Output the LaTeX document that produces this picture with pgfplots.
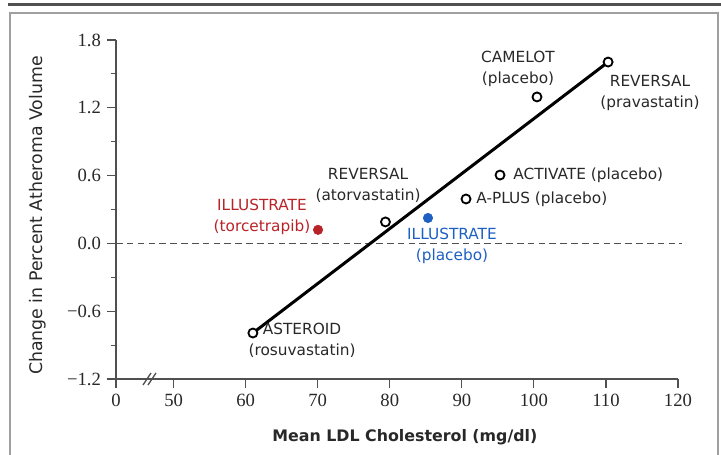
\documentclass[border=0pt]{standalone}
\usepackage{fontspec}
\setmainfont{DejaVu Sans}
\newfontfamily\tickfont{Liberation Serif}
\usepackage{pgfplots}
\pgfplotsset{compat=1.18}
\definecolor{mred}{RGB}{185,35,40}
\definecolor{mblue}{RGB}{30,95,195}
\definecolor{txt}{RGB}{40,40,40}
\definecolor{axgray}{RGB}{80,80,80}

\begin{document}
\begin{tikzpicture}
% page = 721 x 454 px, 1 px = 0.6pt, origin at the axis corner
\useasboundingbox (-69.6pt,-45pt) rectangle (363pt,227.4pt);
\draw[color=axgray, line width=1.8pt] (-64.8pt,224.4pt) -- (363pt,224.4pt);
\draw[color=gray!75, line width=1.2pt] (-63.6pt,-60pt) -- (-63.6pt,219.6pt) -- (361.2pt,219.6pt) -- (361.2pt,-60pt);

\begin{axis}[
    at={(0,0)}, anchor=south west,
    scale only axis, width=337.2pt, height=203.4pt,
    xmin=42, xmax=120, ymin=-1.2, ymax=1.8,
    axis x line*=bottom, axis y line*=left,
    axis line style={axgray, line width=0.7pt},
    xtick={42,50,60,70,80,90,100,110,120},
    xticklabels={0,50,60,70,80,90,100,110,120},
    ytick={-1.2,-0.6,0,0.6,1.2,1.8},
    yticklabels={−1.2,−0.6,0.0,0.6,1.2,1.8},
    minor ytick={-0.9,-0.3,0.3,0.9,1.5},
    tick align=outside,
    major tick length=5.5pt, minor tick length=3pt,
    tick style={axgray, line width=0.7pt},
    ticklabel style={font=\tickfont\fontsize{11.2}{13}\selectfont, text=txt},
    xlabel={Mean LDL Cholesterol (mg/dl)},
    ylabel={Change in Percent Atheroma Volume},
    every axis x label/.style={at={(axis description cs:0.514,-0.171)}, anchor=center,
        font=\bfseries\fontsize{9.5}{11}\selectfont, text=txt},
    every axis y label/.style={at={(axis description cs:-0.139,0.482)}, anchor=center, rotate=90,
        font=\fontsize{10.4}{12}\selectfont, text=txt},
    clip=false,
    every node/.append style={text=txt},
]

% zero line
\addplot[axgray, line width=0.7pt, dash pattern=on 4pt off 2.5pt] coordinates {(42,0) (120.5,0)};

% regression line
\addplot[black, line width=1.8pt] coordinates {(61.0,-0.793) (110.3,1.605)};

% trials (open markers)
\addplot[only marks, mark=*, mark size=2.7pt, mark options={draw=black, fill=white, line width=1.1pt}]
    coordinates {(61.0,-0.793) (79.4,0.19) (90.58,0.393) (95.3,0.605) (100.43,1.296) (110.3,1.605)};

% ILLUSTRATE arms
\addplot[only marks, mark=*, mark size=2.8pt, color=mred] coordinates {(70.04,0.12)};
\addplot[only marks, mark=*, mark size=2.8pt, color=mblue] coordinates {(85.3,0.225)};

% axis break
\draw[axgray, line width=0.8pt] (axis cs:46.3,-1.2) ++(-2.4pt,-3.6pt) -- ++(4.8pt,7.2pt);
\draw[axgray, line width=0.8pt] (axis cs:46.3,-1.2) ++(0.6pt,-3.6pt) -- ++(4.8pt,7.2pt);

\begin{scope}[every node/.style={font=\fontsize{9.2}{12.6}\selectfont, align=center, text=txt, inner sep=0pt}]
\node at (axis cs:97.79,1.548) {CAMELOT\\(placebo)};
\node at (axis cs:116.11,1.335) {REVERSAL\\(pravastatin)};
\node[anchor=west] at (axis cs:97.1,0.605) {ACTIVATE (placebo)};
\node[anchor=west] at (axis cs:91.97,0.393) {A-PLUS (placebo)};
\node at (axis cs:76.98,0.517) {REVERSAL\\(atorvastatin)};
\node[text=mred] at (axis cs:62.26,0.234) {ILLUSTRATE\\(torcetrapib)};
\node[text=mblue] at (axis cs:88.63,-0.023) {ILLUSTRATE\\(placebo)};
\node at (axis cs:67.82,-0.855) {ASTEROID\\(rosuvastatin)};
\end{scope}
\end{axis}
\end{tikzpicture}
\end{document}
